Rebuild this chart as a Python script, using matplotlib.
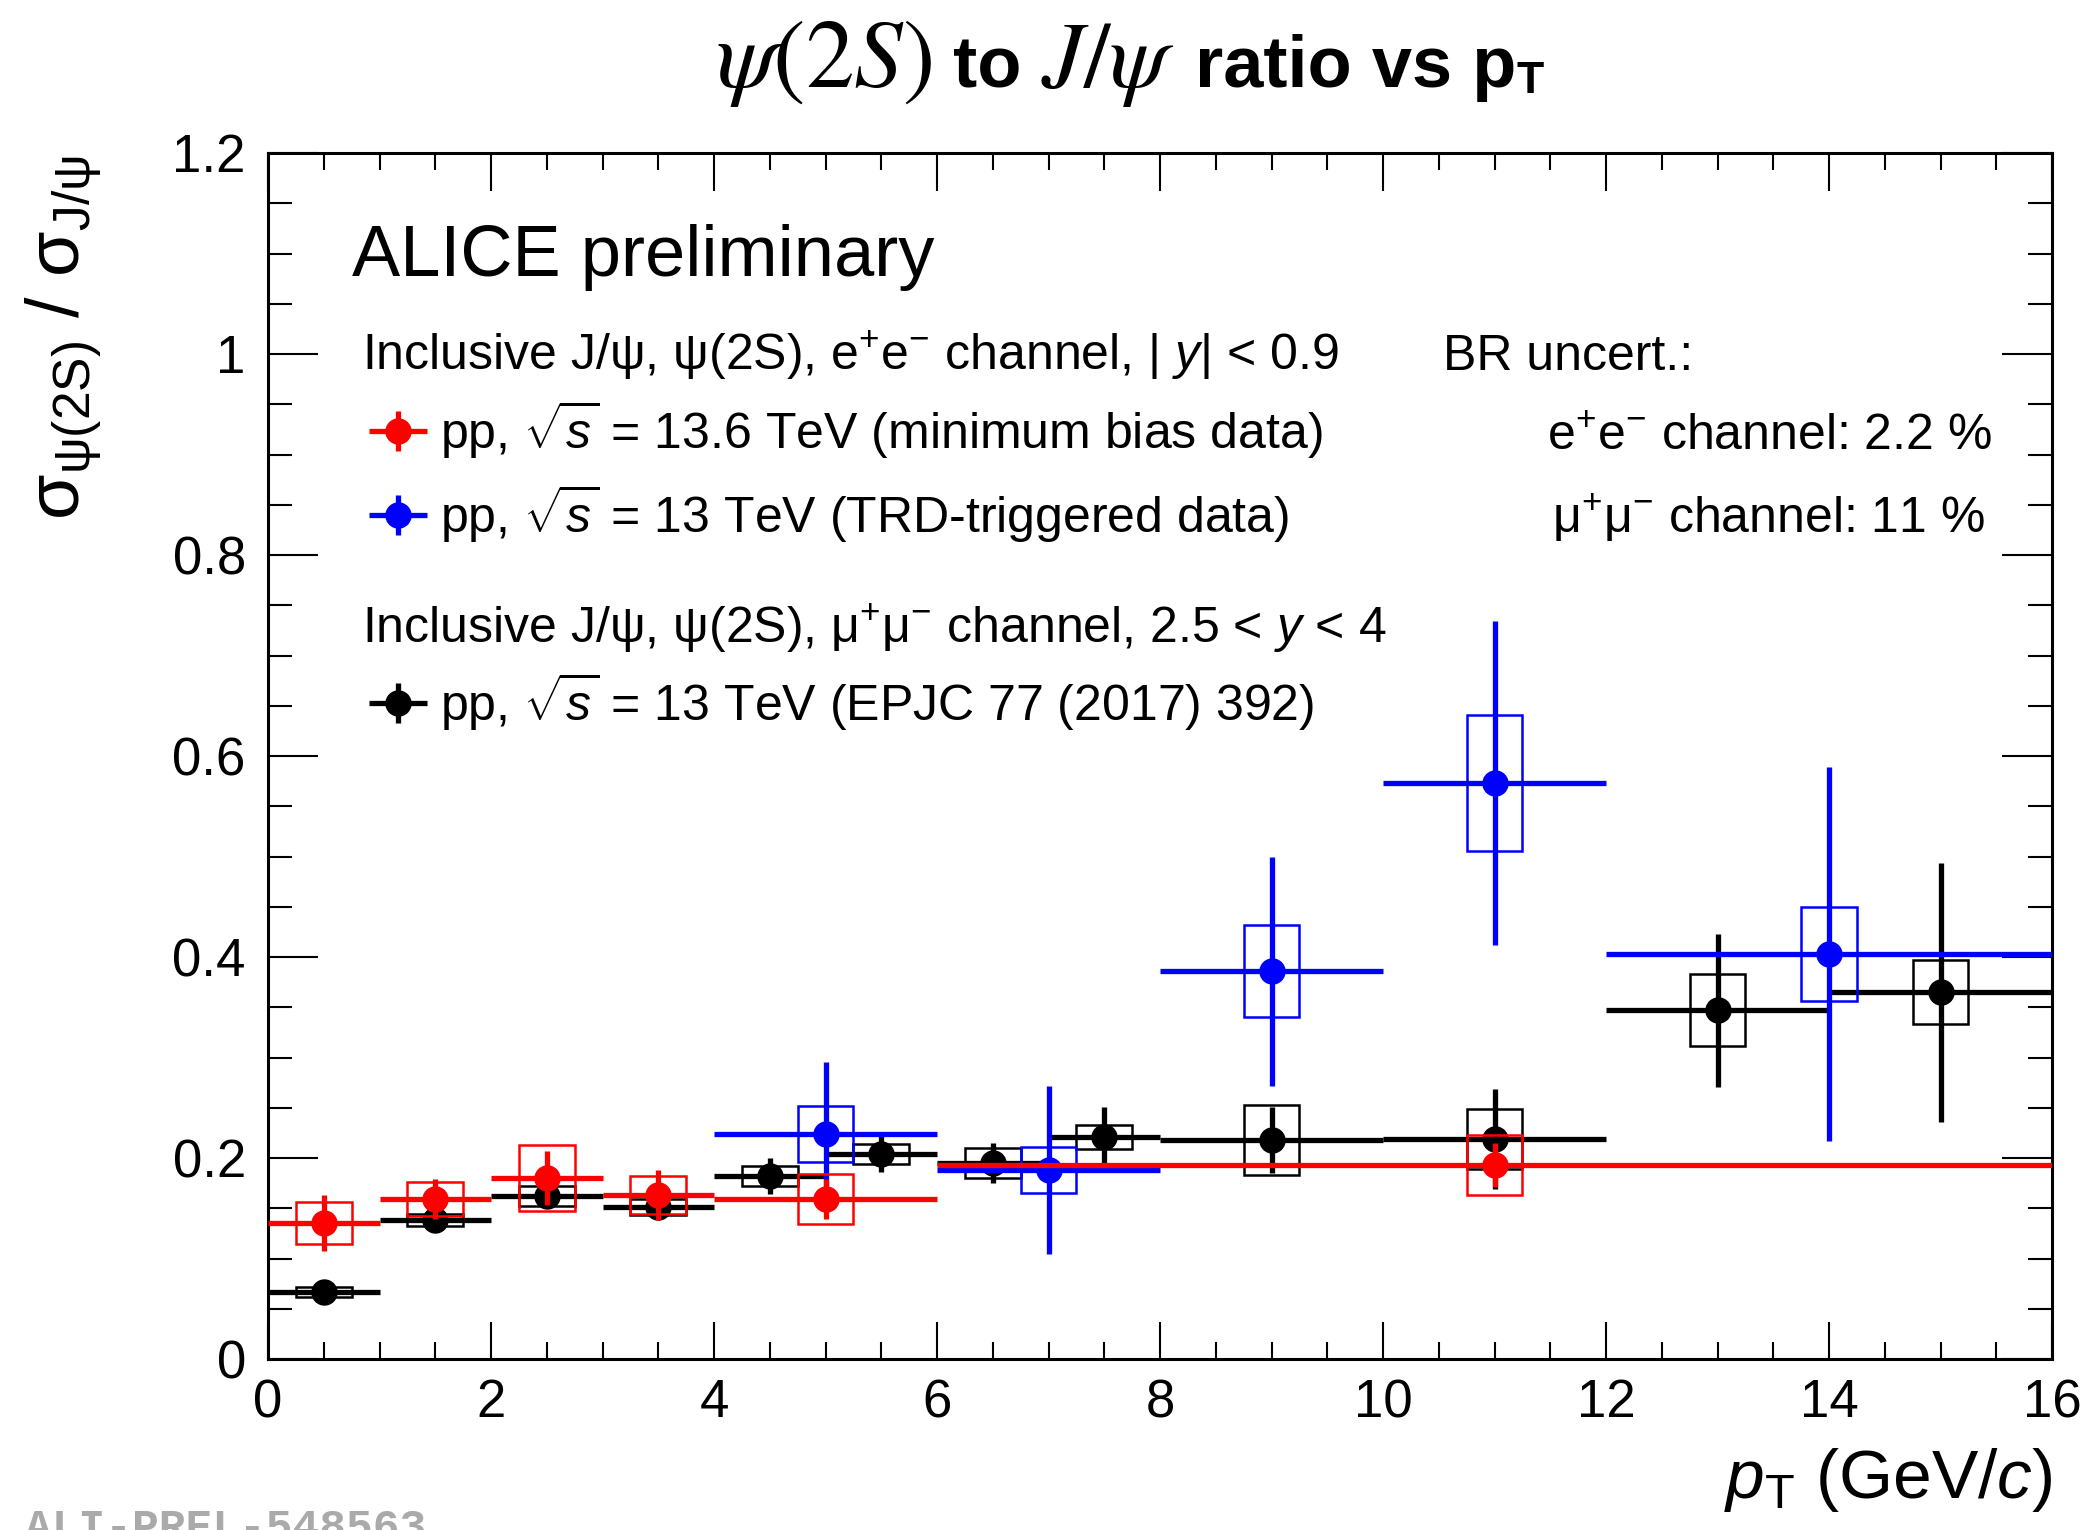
import matplotlib
matplotlib.use("Agg")
import matplotlib.pyplot as plt
from matplotlib.ticker import MultipleLocator, FuncFormatter
from matplotlib.container import ErrorbarContainer
from matplotlib.legend_handler import HandlerErrorbar

plt.rcParams['font.family'] = ['Liberation Sans', 'DejaVu Sans']
plt.rcParams['mathtext.fontset'] = 'custom'
plt.rcParams['mathtext.rm'] = 'Liberation Sans'
plt.rcParams['mathtext.it'] = 'Liberation Sans:italic'
plt.rcParams['mathtext.bf'] = 'Liberation Sans:bold'

# pp 13.6 TeV, e+e- (minimum bias)
pt_136 = [0.5, 1.5, 2.5, 3.5, 5.0, 11.0]
dpt_136 = [0.5, 0.5, 0.5, 0.5, 1.0, 5.0]
r_136 = [0.135, 0.159, 0.180, 0.163, 0.159, 0.193]
stat_136 = [0.028, 0.020, 0.027, 0.025, 0.020, 0.022]
syst_136 = [0.021, 0.017, 0.033, 0.019, 0.025, 0.030]

# pp 13 TeV, e+e- (TRD-triggered)
pt_trd = [5.0, 7.0, 9.0, 11.0, 14.0]
dpt_trd = [1.0, 1.0, 1.0, 1.0, 2.0]
r_trd = [0.224, 0.188, 0.386, 0.573, 0.403]
stat_trd = [0.072, 0.084, 0.114, 0.161, 0.186]
syst_trd = [0.028, 0.023, 0.046, 0.068, 0.047]

# pp 13 TeV, mu+mu- (EPJC 77 (2017) 392)
pt_mu = [0.5, 1.5, 2.5, 3.5, 4.5, 5.5, 6.5, 7.5, 9.0, 11.0, 13.0, 15.0]
dpt_mu = [0.5, 0.5, 0.5, 0.5, 0.5, 0.5, 0.5, 0.5, 1.0, 1.0, 1.0, 1.0]
r_mu = [0.067, 0.138, 0.162, 0.151, 0.182, 0.204, 0.195, 0.221, 0.218, 0.219, 0.347, 0.365]
stat_mu = [0.008, 0.008, 0.010, 0.012, 0.018, 0.018, 0.020, 0.030, 0.033, 0.050, 0.076, 0.129]
syst_mu = [0.005, 0.006, 0.010, 0.008, 0.010, 0.010, 0.015, 0.012, 0.035, 0.030, 0.036, 0.032]

W, H = 2089, 1530
fig = plt.figure(figsize=(W / 100, H / 100), dpi=100)
ax = fig.add_axes([268 / W, 1 - 1359 / H, (2052 - 268) / W, (1359 - 153) / H])


def draw_series(x, dx, y, stat, syst, color, z):
    bottoms = [a - b for a, b in zip(y, syst)]
    heights = [2 * b for b in syst]
    ax.bar(x, heights, width=0.5, bottom=bottoms, fill=False,
           edgecolor=color, linewidth=1.8, zorder=z)
    return ax.errorbar(x, y, xerr=dx, yerr=stat, fmt='o', color=color,
                       ms=19, mew=0, elinewidth=3.8, capsize=0, zorder=z + 0.5)


eb_mu = draw_series(pt_mu, dpt_mu, r_mu, stat_mu, syst_mu, 'black', 2)
eb_trd = draw_series(pt_trd, dpt_trd, r_trd, stat_trd, syst_trd, '#0000ff', 3)
eb_136 = draw_series(pt_136, dpt_136, r_136, stat_136, syst_136, '#ff0000', 4)

ax.set_xlim(0, 16)
ax.set_ylim(0, 1.2)
ax.xaxis.set_major_locator(MultipleLocator(2))
ax.xaxis.set_minor_locator(MultipleLocator(0.5))
ax.yaxis.set_major_locator(MultipleLocator(0.2))
ax.yaxis.set_minor_locator(MultipleLocator(0.05))
ax.yaxis.set_major_formatter(FuncFormatter(lambda v, _: f"{v:g}"))
ax.tick_params(which='both', direction='in', top=True, right=True, width=1.5)
ax.tick_params(axis='x', which='major', length=27, labelsize=38, pad=14)
ax.tick_params(axis='x', which='minor', length=12.5)
ax.tick_params(axis='y', which='major', length=36, labelsize=38, pad=16)
ax.tick_params(axis='y', which='minor', length=17)
for sp in ax.spines.values():
    sp.set_linewidth(2.2)

# axis titles
fig.text(2052 / W, 1 - 1498 / H, r"$p_{\mathregular{T}}$ (GeV/$c$)",
         fontsize=50, ha='right', va='baseline')
fig.text(80 / W, 1 - 338 / H, r"$\mathregular{σ_{ψ(2S)}\ /\ σ_{J/ψ}}$",
         fontsize=53, rotation=90, rotation_mode='anchor', ha='center', va='baseline')

# labels inside the frame
fig.text(352 / W, 1 - 276 / H, "ALICE preliminary", fontsize=52, va='baseline')
fig.text(362 / W, 1 - 370 / H,
         r"Inclusive J/ψ, ψ(2S), e$^{+}$e$^{-}$ channel, | $y$| < 0.9",
         fontsize=36, va='baseline')
fig.text(1443 / W, 1 - 370 / H, "BR uncert.:", fontsize=36, va='baseline')
fig.text(1992 / W, 1 - 450 / H, r"e$^{+}$e$^{-}$ channel: 2.2 %",
         fontsize=36, va='baseline', ha='right')
fig.text(1985 / W, 1 - 533 / H, r"μ$^{+}$μ$^{-}$ channel: 11 %",
         fontsize=36, va='baseline', ha='right')
fig.text(362 / W, 1 - 643 / H,
         r"Inclusive J/ψ, ψ(2S), μ$^{+}$μ$^{-}$ channel, 2.5 < $y$ < 4",
         fontsize=36, va='baseline')

hmap = {ErrorbarContainer: HandlerErrorbar(xerr_size=0.58, yerr_size=0.4)}
leg_kw = dict(frameon=False, fontsize=36, handlelength=1.2, handletextpad=0.25,
              borderpad=0, borderaxespad=0, handler_map=hmap,
              bbox_transform=fig.transFigure, loc='upper left')
leg1 = ax.legend([eb_136, eb_trd],
                 [r"pp, $\sqrt{s}$ = 13.6 TeV (minimum bias data)",
                  r"pp, $\sqrt{s}$ = 13 TeV (TRD-triggered data)"],
                 bbox_to_anchor=(368 / W, 1 - 398 / H), labelspacing=0.45, **leg_kw)
ax.add_artist(leg1)
ax.legend([eb_mu], [r"pp, $\sqrt{s}$ = 13 TeV (EPJC 77 (2017) 392)"],
          bbox_to_anchor=(368 / W, 1 - 670 / H), **leg_kw)

# title built from serif and bold sans pieces
pieces = [(r"$\psi(2S)$", dict(math_fontfamily='stix', fontsize=70), 0),
          (" to ", dict(fontsize=52, weight='bold'), 0),
          (r"$J/\psi$", dict(math_fontfamily='stix', fontsize=68), 0),
          (" ratio vs p", dict(fontsize=52, weight='bold'), 0),
          ("T", dict(fontsize=32, weight='bold'), -6)]
base_y = 87
renderer = fig.canvas.get_renderer()
texts = []
for s, kw, dy in pieces:
    t = fig.text(0, 1 - (base_y - dy) / H, s, va='baseline', ha='left', **kw)
    texts.append(t)
widths = [t.get_window_extent(renderer).width for t in texts]
x = 1130 - sum(widths) / 2
for t, w in zip(texts, widths):
    t.set_x(x / W)
    x += w

fig.text(25 / W, -10 / H, "ALI-PREL-548563", family='Liberation Mono',
         weight='bold', color='#aaaaaa', fontsize=32, va='baseline')

fig.savefig("out.png", dpi=100)
